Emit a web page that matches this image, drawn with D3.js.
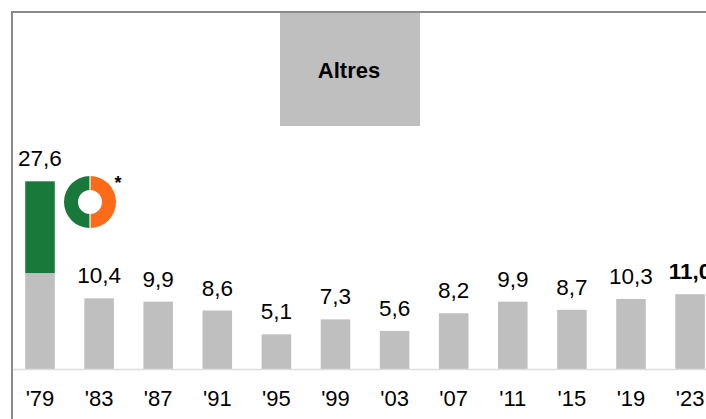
<!DOCTYPE html>
<html>
<head>
<meta charset="utf-8">
<script src="https://cdn.jsdelivr.net/npm/d3@7"></script>
<style>
  html, body { margin: 0; padding: 0; background: #fff; }
  svg { display: block; font-family: "Liberation Sans", Arial, sans-serif; }
</style>
</head>
<body>
<svg id="chart" width="706" height="419"></svg>
<script>
// ---- data ----
const years = ["'79", "'83", "'87", "'91", "'95", "'99", "'03", "'07", "'11", "'15", "'19", "'23"];
const values = [27.6, 10.4, 9.9, 8.6, 5.1, 7.3, 5.6, 8.2, 9.9, 8.7, 10.3, 11.0];
// split of the 1979 bar: grey "others" part + green highlighted party part
const splitYear = "'79";
const splitGrey = 14.1;
const title = "Altres";

// ---- drawing ----
const svg = d3.select("#chart");
const W = 706, H = 419;
const baseY = 369;

const x = d3.scaleBand().domain(years).range([10.45, 10.45 + 12 * 59.1])
  .paddingInner(0.5).paddingOuter(0.25);
const y = d3.scaleLinear().domain([0, 30]).range([baseY, baseY - 30 * 6.8]);

const loc = d3.formatLocale({decimal: ",", thousands: ".", grouping: [3], currency: ["", "€"]});
const fmt = loc.format(".1f");

// title box
svg.append("rect").attr("x", 280).attr("y", 12).attr("width", 140).attr("height", 114)
  .attr("fill", "#bfbfbf");
svg.append("text").attr("x", 349).attr("y", 78).attr("text-anchor", "middle")
  .attr("font-size", 22).attr("font-weight", "bold").attr("fill", "#000").text(title);

// bars
const data = years.map((yr, i) => ({yr, v: values[i]}));
svg.append("g").selectAll("rect.grey").data(data).join("rect")
  .attr("x", d => x(d.yr))
  .attr("width", x.bandwidth())
  .attr("y", d => y(d.yr === splitYear ? splitGrey : d.v))
  .attr("height", d => baseY - y(d.yr === splitYear ? splitGrey : d.v))
  .attr("fill", "#bfbfbf");

// green part of split bar
const sd = data.find(d => d.yr === splitYear);
svg.append("rect")
  .attr("x", x(sd.yr)).attr("width", x.bandwidth())
  .attr("y", y(sd.v)).attr("height", y(splitGrey) - y(sd.v))
  .attr("fill", "#18793a");

// value labels
svg.append("g").selectAll("text").data(data).join("text")
  .attr("x", d => x(d.yr) + x.bandwidth() / 2)
  .attr("y", d => y(d.v) - 15)
  .attr("text-anchor", "middle")
  .attr("font-size", 22.5)
  .attr("font-weight", (d, i) => i === data.length - 1 ? "bold" : "normal")
  .attr("fill", "#000")
  .text(d => fmt(d.v));

// baseline
svg.append("line").attr("x1", 12).attr("x2", W).attr("y1", baseY + 0.5).attr("y2", baseY + 0.5)
  .attr("stroke", "#dddddd").attr("stroke-width", 1.5);

// axis labels
const axis = d3.axisBottom(x).tickSize(0).tickPadding(0);
const ag = svg.append("g").attr("transform", `translate(0,${baseY})`).call(axis);
ag.select(".domain").remove();
ag.selectAll("text").attr("font-size", 22).attr("fill", "#000")
  .attr("font-family", "Liberation Sans, Arial, sans-serif")
  .attr("dy", null).attr("y", 37);

// frame lines
svg.append("line").attr("x1", 12).attr("x2", W).attr("y1", 12).attr("y2", 12)
  .attr("stroke", "#8a8a8a").attr("stroke-width", 2);
svg.append("line").attr("x1", 12).attr("x2", 12).attr("y1", 11).attr("y2", H)
  .attr("stroke", "#8a8a8a").attr("stroke-width", 2);

// party logo ring (green / orange halves)
const cx = 90, cy = 202;
const arc = d3.arc().innerRadius(12).outerRadius(26);
const lg = svg.append("g").attr("transform", `translate(${cx},${cy})`);
lg.append("path").attr("d", arc({startAngle: Math.PI, endAngle: 2 * Math.PI})).attr("fill", "#18793a");
lg.append("path").attr("d", arc({startAngle: 0, endAngle: Math.PI})).attr("fill", "#fd6a18");
lg.append("line").attr("x1", 0).attr("x2", 0).attr("y1", -27).attr("y2", 27)
  .attr("stroke", "#fff").attr("stroke-width", 1.2);
svg.append("text").attr("x", 118).attr("y", 189).attr("text-anchor", "middle")
  .attr("font-size", 18).attr("font-weight", "bold").text("*");
</script>
</body>
</html>
